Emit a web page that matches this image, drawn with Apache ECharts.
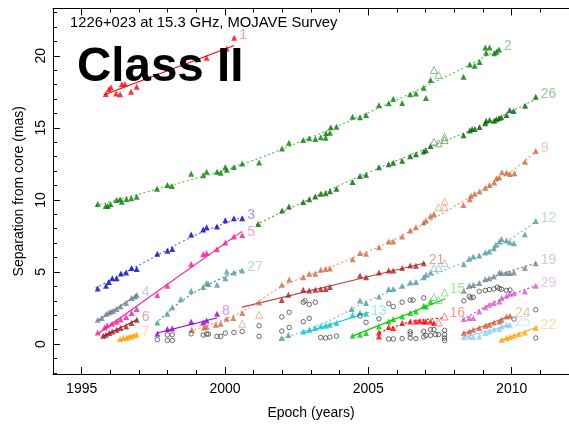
<!DOCTYPE html>
<html>
<head>
<meta charset="utf-8">
<script src="https://cdn.jsdelivr.net/npm/echarts@6/dist/echarts.min.js"></script>
<style>
  html, body { margin: 0; padding: 0; background: #fff; }
  #chart { width: 569px; height: 425px; }
</style>
</head>
<body>
<div id="chart"></div>
<script>
// Axis ticks
const xMajor = [1995, 2000, 2005, 2010];
const xMinor = [1994, 1995, 1996, 1997, 1998, 1999, 2000, 2001, 2002, 2003, 2004, 2005, 2006, 2007, 2008, 2009, 2010, 2011, 2012];
const yMajor = [0, 5, 10, 15, 20];
const yMinor = [-2, -1, 0, 1, 2, 3, 4, 5, 6, 7, 8, 9, 10, 11, 12, 13, 14, 15, 16, 17, 18, 19, 20, 21, 22, 23];

// Component positions [epoch, separation in mas]
const c1 = [[1995.84,17.35],[1995.95,17.67],[1996.02,17.81],[1996.20,17.39],[1996.34,17.33],[1996.40,18.02],[1996.51,18.04],[1996.72,17.50],[1996.92,17.85],[1999.36,19.86],[2000.06,20.51],[2000.32,21.25]];
const c2 = [[1995.56,9.72],[1995.84,9.58],[1995.91,9.58],[1996.01,9.70],[1996.21,10.00],[1996.34,10.05],[1996.40,9.88],[1996.56,10.07],[1996.73,10.12],[1996.92,10.21],[1997.63,10.78],[1997.99,11.04],[1998.15,10.97],[1998.82,11.82],[1999.24,11.71],[1999.36,11.96],[1999.72,11.96],[1999.85,11.89],[2000.01,12.29],[2000.06,12.10],[2000.31,12.29],[2000.60,12.52],[2001.19,12.59],[2001.99,13.56],[2002.23,13.97],[2002.73,14.16],[2002.94,14.28],[2003.15,14.23],[2003.34,14.35],[2003.51,14.32],[2003.52,14.62],[2003.66,14.66],[2003.69,15.04],[2003.89,15.08],[2004.45,15.77],[2004.71,15.73],[2004.92,15.89],[2005.37,16.56],[2005.71,16.70],[2005.87,17.02],[2006.18,16.72],[2006.46,17.33],[2006.66,17.39],[2006.93,17.78],[2007.01,17.07],[2007.17,18.32],[2008.32,18.54],[2008.54,19.40],[2008.71,19.31],[2008.88,19.56],[2009.08,20.58],[2009.23,20.58],[2009.11,20.21],[2009.39,20.17],[2009.47,20.28],[2009.56,20.44]];
const h2 = [[2007.29,19.01],[2007.45,18.68]];
const c26 = [[2001.16,8.32],[2001.99,9.26],[2002.23,9.54],[2002.73,9.86],[2002.94,10.05],[2003.15,10.23],[2003.34,10.42],[2003.51,10.46],[2003.66,10.60],[2003.89,10.78],[2004.45,11.25],[2004.71,11.66],[2004.92,11.75],[2005.37,12.27],[2005.71,12.47],[2005.87,12.58],[2006.18,12.72],[2006.46,13.03],[2006.66,13.17],[2006.93,13.36],[2007.01,13.44],[2007.17,13.74],[2008.32,14.48],[2008.54,14.82],[2008.62,14.92],[2008.71,14.92],[2008.88,15.06],[2009.08,15.32],[2009.11,15.50],[2009.23,15.54],[2009.39,15.50],[2009.47,15.59],[2009.56,15.68],[2009.64,15.73],[2009.82,15.89],[2009.93,16.24],[2010.07,16.17],[2010.47,16.53],[2010.84,17.16]];
const h26 = [[2007.29,14.04],[2007.45,13.93],[2007.66,14.37],[2007.66,14.15]];
const c3 = [[1995.56,3.85],[1995.85,4.04],[1995.95,4.30],[1996.07,4.57],[1996.22,4.57],[1996.37,4.89],[1996.55,4.96],[1996.74,5.27],[1996.92,5.20],[1997.64,6.26],[1997.99,6.47],[1998.16,6.60],[1998.82,7.60],[1999.24,7.94],[1999.36,8.11],[1999.72,8.15],[2000.01,8.59],[2000.31,8.73],[2000.60,8.73]];
const c5 = [[1995.56,0.80],[1995.80,1.15],[1995.89,1.29],[1996.06,1.41],[1996.22,1.55],[1996.36,1.70],[1996.55,1.87],[1996.74,2.15],[1996.92,2.43],[1997.64,3.40],[1997.99,4.04],[1998.82,5.56],[1999.24,6.24],[1999.36,6.31],[1999.72,6.58],[2000.01,7.04],[2000.31,7.46],[2000.60,7.57]];
const c4 = [[1995.56,1.68],[1995.70,1.80],[1995.85,2.08],[1995.95,2.19],[1996.02,2.26],[1996.10,2.31],[1996.22,2.43],[1996.36,2.61],[1996.55,2.84],[1996.74,3.19],[1996.86,3.30],[1996.92,3.40]];
const c6 = [[1995.75,0.58],[1995.85,0.64],[1995.96,0.76],[1996.07,0.87],[1996.22,0.99],[1996.36,1.11],[1996.55,1.22],[1996.74,1.46],[1996.92,1.68]];
const c7 = [[1996.34,0.35],[1996.45,0.42],[1996.57,0.42],[1996.66,0.53],[1996.74,0.53],[1996.83,0.60],[1996.92,0.64]];
const c8 = [[1997.64,0.71],[1997.99,1.04],[1998.16,1.08],[1998.82,1.55],[1999.24,1.50],[1999.36,1.64],[1999.72,2.10]];
const c27 = [[1997.64,1.50],[1997.99,2.10],[1998.16,2.56],[1998.46,3.12],[1998.82,3.69],[1999.24,3.95],[1999.36,4.23],[1999.42,4.16],[1999.72,4.11],[2000.01,4.57],[2000.06,5.03],[2000.31,4.96],[2000.60,5.10]];
const c9 = [[1998.84,0.99],[1999.27,1.15],[1999.36,1.18],[1999.68,1.34],[1999.85,1.41],[2000.06,1.75],[2000.29,1.80],[2000.60,2.15],[2001.19,2.88],[2001.98,4.11],[2002.24,4.48],[2002.73,4.64],[2002.94,4.87],[2003.15,4.87],[2003.34,5.15],[2003.51,5.20],[2003.66,5.24],[2004.45,5.89],[2004.71,6.31],[2004.92,6.26],[2005.37,6.72],[2005.71,7.11],[2005.87,7.11],[2006.18,7.46],[2006.46,7.87],[2006.66,8.11],[2006.93,8.43],[2007.01,8.57],[2007.17,8.89],[2007.29,9.03],[2008.32,9.65],[2008.54,10.05],[2008.58,10.28],[2008.71,10.42],[2008.88,10.58],[2009.08,10.85],[2009.23,11.04],[2009.39,11.20],[2009.47,11.50],[2009.56,11.55],[2009.66,11.92],[2009.82,11.89],[2009.94,11.80],[2010.10,11.85],[2010.47,12.65],[2010.84,13.40]];
const h9 = [[2000.60,1.41],[2001.19,2.03],[2007.45,9.49],[2007.66,9.88],[2007.66,9.49]];
const c21 = [[2001.98,3.05],[2002.21,3.42],[2002.73,3.76],[2002.94,3.72],[2003.15,3.76],[2003.34,3.80],[2003.51,3.82],[2003.66,3.95],[2004.71,4.75],[2004.92,4.64],[2005.37,4.96],[2005.71,5.10],[2005.87,5.10],[2006.18,5.27],[2006.46,5.45],[2006.66,5.43],[2006.93,5.61]];
const c12 = [[2001.98,0.42],[2002.21,0.62],[2004.42,2.43],[2004.71,3.02],[2004.92,2.84],[2005.37,3.30],[2005.71,3.81],[2005.87,3.81],[2006.18,4.04],[2006.46,4.27],[2006.66,4.30],[2006.93,4.64],[2007.01,4.80],[2007.17,4.96],[2008.33,5.54],[2008.52,5.91],[2008.66,6.07],[2008.87,6.14],[2009.08,6.35],[2009.22,6.42],[2009.38,6.65],[2009.45,6.88],[2009.57,7.11],[2009.65,7.28],[2009.82,7.18],[2009.94,7.07],[2010.08,7.00],[2010.46,7.62],[2010.84,8.54]];
const h12 = [[2007.29,5.27],[2007.45,5.27],[2007.66,5.61]];
const c19 = [[2008.33,3.69],[2008.52,4.04],[2008.66,4.10],[2008.87,4.23],[2009.08,4.50],[2009.22,4.57],[2009.38,4.68],[2009.57,4.96],[2009.65,4.92],[2009.82,4.92],[2009.94,4.92],[2010.08,4.96],[2010.46,5.27],[2010.84,5.61]];
const c29 = [[2008.33,1.73],[2008.52,1.80],[2008.66,1.80],[2008.87,2.26],[2009.08,2.56],[2009.22,2.72],[2009.38,2.84],[2009.57,2.95],[2009.65,3.19],[2009.82,3.35],[2009.94,3.49],[2010.08,3.53],[2010.46,3.65],[2010.84,4.04]];
const c13 = [[2002.73,0.87],[2002.94,0.99],[2003.15,1.11],[2003.34,1.22],[2003.51,1.27],[2003.66,1.34],[2003.89,1.46],[2004.45,2.03],[2004.71,2.19],[2004.92,2.10]];
const c15 = [[2004.45,0.58],[2004.71,0.64],[2004.92,0.76],[2005.37,1.22],[2005.71,1.57],[2005.87,1.73],[2006.18,1.91],[2006.46,2.15],[2006.66,2.26],[2006.93,2.65],[2007.01,2.60],[2007.17,2.95]];
const h15 = [[2007.29,3.26],[2007.45,3.05],[2007.66,3.58]];
const c16 = [[2005.37,0.53],[2005.37,0.80],[2005.71,1.18],[2005.87,1.11],[2006.18,1.46],[2006.46,1.57],[2006.66,1.57],[2006.80,1.60],[2006.93,1.57],[2007.01,1.57],[2007.17,1.57],[2007.29,1.46]];
const h16 = [[2007.45,1.50],[2007.66,1.91]];
const c24 = [[2008.33,0.76],[2008.52,0.87],[2008.66,0.99],[2008.87,1.11],[2009.08,1.27],[2009.22,1.34],[2009.38,1.50],[2009.57,1.57],[2009.65,1.68],[2009.82,1.91],[2009.94,1.96]];
const c25 = [[2008.33,0.49],[2008.52,0.52],[2008.66,0.49],[2008.87,0.52],[2009.08,0.76],[2009.22,0.87],[2009.38,0.99],[2009.57,1.04],[2009.65,1.22],[2009.82,1.34],[2009.94,1.34]];
const c22 = [[2009.65,0.30],[2009.82,0.42],[2009.94,0.49],[2010.08,0.58],[2010.25,0.69],[2010.46,0.80],[2010.84,1.11]];

// Unidentified features (open circles)
const unclassified = [[1997.64,0.30],[1997.99,0.64],[1998.16,0.64],[1997.99,0.25],[1998.16,0.25],[1998.82,0.71],[1999.24,0.62],[1999.36,0.69],[1999.42,0.69],[1999.72,0.53],[1999.85,0.53],[2000.01,0.76],[2000.31,0.80],[2000.60,0.87],[2001.19,0.53],[2001.19,1.27],[2001.98,1.88],[2001.98,0.90],[2002.24,2.20],[2002.24,1.15],[2002.73,2.90],[2002.79,3.00],[2002.94,2.75],[2003.15,2.90],[2002.73,1.55],[2002.94,1.78],[2003.34,0.45],[2003.51,0.42],[2003.66,0.48],[2003.89,0.55],[2004.71,1.95],[2004.92,1.50],[2005.37,1.75],[2005.71,2.80],[2005.87,2.60],[2006.18,2.90],[2006.46,3.05],[2006.56,3.05],[2006.93,3.20],[2005.71,0.35],[2005.87,0.35],[2006.18,0.38],[2006.46,0.42],[2006.46,0.85],[2006.46,0.70],[2006.66,0.38],[2006.93,0.50],[2006.93,0.88],[2007.01,0.60],[2007.17,0.60],[2007.17,1.00],[2007.29,1.00],[2007.35,0.65],[2007.45,0.65],[2007.66,0.95],[2007.66,0.65],[2007.66,0.42],[2007.66,0.25],[2008.33,3.00],[2008.52,3.30],[2008.58,3.20],[2008.66,3.25],[2008.87,3.65],[2009.08,3.72],[2009.22,3.78],[2009.38,3.82],[2009.50,3.95],[2009.57,3.85],[2009.65,3.80],[2009.82,3.72],[2009.94,3.75],[2010.08,1.73],[2010.84,2.38],[2010.84,0.42]];

// Kinematic fits
const f1 = [[1995.79,17.3],[2000.3,20.7]];
const f2 = [[1995.5,9.6],[1998,10.95],[2000.5,12.4],[2003,14.35],[2005.5,16.5],[2008,18.85],[2009.6,20.5]];
const f26 = [[2001.1,8.3],[2003,10.1],[2005,11.9],[2007,13.55],[2009,15.2],[2010.85,17.0]];
const f3 = [[1995.5,3.9],[1996.5,4.95],[1997.5,6.0],[1998.5,7.1],[1999.5,8.0],[2000.6,8.8]];
const f5 = [[1995.56,0.71],[2000.58,7.8]];
const f27 = [[1997.6,1.45],[1998.5,3.0],[1999.5,4.2],[2000.6,5.15]];
const f4 = [[1995.55,1.62],[1996.95,3.42]];
const f6 = [[1995.72,0.52],[1996.95,1.7]];
const f7 = [[1996.3,0.28],[1996.95,0.67]];
const f8 = [[1997.64,0.76],[1999.71,1.8]];
const f9 = [[1998.8,0.9],[2000.5,2.15],[2002,4.0],[2004,5.6],[2006,7.35],[2008,9.55],[2010,12.0],[2010.85,13.4]];
const f21 = [[2000.6,2.56],[2006.97,5.62]];
const f12 = [[2001.9,0.3],[2003.5,1.5],[2005,3.0],[2006.5,4.2],[2008,5.4],[2009.5,6.75],[2010.85,8.5]];
const f19 = [[2008.3,3.7],[2009.5,4.75],[2010.85,5.6]];
const f29 = [[2008.3,1.7],[2009.5,3.0],[2010.85,4.05]];
const f13 = [[2002.73,0.76],[2005.0,2.19]];
const f15 = [[2004.42,0.53],[2007.67,3.12]];
const f16 = [[2005.4,0.8],[2006.5,1.55],[2007.66,1.8]];
const f24 = [[2008.3,0.72],[2009.95,1.95]];
const f25 = [[2008.3,0.45],[2009.95,1.33]];
const f22 = [[2009.6,0.25],[2010.9,1.18]];

// Component styling: marker colour, fit colour, label colour, dotted fit
const components = [
  { id: '1',  pts: c1,  open: [],  fit: f1,  color: '#ff0000', line: '#ff0000', text: '#ff8080', dotted: false },
  { id: '2',  pts: c2,  open: h2,  fit: f2,  color: '#008000', line: '#66c266', text: '#80c080', dotted: true },
  { id: '26', pts: c26, open: h26, fit: f26, color: '#006400', line: '#66b266', text: '#80b880', dotted: true },
  { id: '3',  pts: c3,  open: [],  fit: f3,  color: '#0000cd', line: '#7070ff', text: '#8080ff', dotted: true },
  { id: '5',  pts: c5,  open: [],  fit: f5,  color: '#ff1493', line: '#ff1493', text: '#ff8ac9', dotted: false },
  { id: '27', pts: c27, open: [],  fit: f27, color: '#4f9a9c', line: '#4f9a9c', text: '#a8d0d0', dotted: true },
  { id: '4',  pts: c4,  open: [],  fit: f4,  color: '#708090', line: '#708090', text: '#b8c0c8', dotted: false },
  { id: '6',  pts: c6,  open: [],  fit: f6,  color: '#a01c1c', line: '#a01c1c', text: '#d89080', dotted: false },
  { id: '7',  pts: c7,  open: [],  fit: f7,  color: '#ffa500', line: '#ffa500', text: '#ffd280', dotted: false },
  { id: '8',  pts: c8,  open: [],  fit: f8,  color: '#9400d3', line: '#9400d3', text: '#c97fe9', dotted: false },
  { id: '9',  pts: c9,  open: h9,  fit: f9,  color: '#d0663f', line: '#eea080', text: '#efb4a0', dotted: true },
  { id: '21', pts: c21, open: [],  fit: f21, color: '#b01c1c', line: '#c04848', text: '#d88888', dotted: false },
  { id: '12', pts: c12, open: h12, fit: f12, color: '#4f9a9c', line: '#8cc0c0', text: '#a8d0d0', dotted: true },
  { id: '19', pts: c19, open: [],  fit: f19, color: '#708090', line: '#708090', text: '#b8c0c8', dotted: true },
  { id: '29', pts: c29, open: [],  fit: f29, color: '#da50d6', line: '#da50d6', text: '#ecb0ea', dotted: true },
  { id: '13', pts: c13, open: [],  fit: f13, color: '#00c8d0', line: '#00c8d0', text: '#80e2e8', dotted: false },
  { id: '15', pts: c15, open: h15, fit: f15, color: '#00cd00', line: '#00cd00', text: '#80e680', dotted: false },
  { id: '16', pts: c16, open: h16, fit: f16, color: '#ff0000', line: '#ff0000', text: '#ff8080', dotted: true },
  { id: '24', pts: c24, open: [],  fit: f24, color: '#c8603a', line: '#c8603a', text: '#e8b49c', dotted: false },
  { id: '25', pts: c25, open: [],  fit: f25, color: '#87cefa', line: '#87cefa', text: '#c0e4fc', dotted: false },
  { id: '22', pts: c22, open: [],  fit: f22, color: '#ffa500', line: '#ffa500', text: '#ffd280', dotted: false }
];

function lighten(hex, t) {
  const n = parseInt(hex.slice(1), 16);
  const r = (n >> 16) & 255, g = (n >> 8) & 255, b = n & 255;
  const m = v => Math.round(v + (255 - v) * t);
  return 'rgb(' + m(r) + ',' + m(g) + ',' + m(b) + ')';
}

const FONT = 'Liberation Sans, Arial, sans-serif';
const series = [];
const labelData = [];

components.forEach(c => {
  series.push({
    type: 'line', data: c.fit, showSymbol: false, silent: true, z: 2,
    smooth: c.dotted && c.fit.length > 2 ? 0.4 : false,
    lineStyle: { color: c.line, width: c.dotted ? 1.3 : 1.1, type: c.dotted ? [1, 3.5] : 'solid', cap: 'round' }
  });
  series.push({
    type: 'scatter', data: c.pts, symbol: 'triangle', symbolSize: 6, z: 3, silent: true,
    itemStyle: { color: c.color }
  });
  if (c.open.length) {
    series.push({
      type: 'scatter', data: c.open, symbol: 'triangle', symbolSize: 7, z: 3, silent: true,
      itemStyle: { color: 'rgba(255,255,255,0)', borderColor: lighten(c.color, 0.4), borderWidth: 1 }
    });
  }
  // name sits just right of the latest epoch of the component
  const all = c.pts.concat(c.open);
  let last = all[0];
  all.forEach(p => { if (p[0] > last[0]) last = p; });
  labelData.push({ value: last, name: c.id, label: { color: c.text } });
});

series.push({
  type: 'scatter', data: unclassified, symbol: 'circle', symbolSize: 4.5, z: 3, silent: true,
  itemStyle: { color: 'rgba(255,255,255,0)', borderColor: '#333', borderWidth: 0.9 }
});

series.push({
  type: 'scatter', data: labelData, symbolSize: 0, z: 4, silent: true,
  label: { show: true, position: 'right', distance: 5, offset: [0, -3], formatter: p => p.name, fontSize: 14, fontFamily: FONT }
});

const xRange = { min: 1994, max: 2012 };
const yRange = { min: -2.08, max: 23.28 };
const axisLineStyle = { lineStyle: { color: '#000', width: 1 } };
const plain = v => String(Math.round(v));

const chart = echarts.init(document.getElementById('chart'), null, { renderer: 'canvas' });
chart.setOption({
  animation: false,
  backgroundColor: '#fff',
  title: [
    { text: '1226+023 at 15.3 GHz, MOJAVE Survey', left: 70, top: 15, padding: 0,
      textStyle: { fontSize: 14.8, fontWeight: 'normal', color: '#000', fontFamily: FONT } },
    { text: 'Class II', left: 77, top: 44, padding: 0,
      textStyle: { fontSize: 47.5, fontWeight: 'bold', color: '#000', fontFamily: FONT } }
  ],
  grid: { left: 53, right: -1, top: 8.5, bottom: 50.5, containLabel: false },
  xAxis: [
    { type: 'value', position: 'bottom', ...xRange,
      name: 'Epoch (years)', nameLocation: 'middle', nameGap: 32,
      nameTextStyle: { fontSize: 14, color: '#000', fontFamily: FONT },
      axisLine: { show: true, onZero: false, ...axisLineStyle },
      axisTick: { show: true, inside: true, length: 7, customValues: xMajor, lineStyle: { color: '#000' } },
      axisLabel: { show: true, customValues: xMajor, formatter: plain, margin: 8, fontSize: 14, color: '#000', fontFamily: FONT },
      splitLine: { show: false } },
    { type: 'value', position: 'bottom', ...xRange,
      axisLine: { show: false, onZero: false },
      axisTick: { show: true, inside: true, length: 4, customValues: xMinor, lineStyle: { color: '#000' } },
      axisLabel: { show: false }, splitLine: { show: false } },
    { type: 'value', position: 'top', ...xRange,
      axisLine: { show: true, onZero: false, ...axisLineStyle },
      axisTick: { show: true, inside: true, length: 7, customValues: xMajor, lineStyle: { color: '#000' } },
      axisLabel: { show: false }, splitLine: { show: false } },
    { type: 'value', position: 'top', ...xRange,
      axisLine: { show: false, onZero: false },
      axisTick: { show: true, inside: true, length: 4, customValues: xMinor, lineStyle: { color: '#000' } },
      axisLabel: { show: false }, splitLine: { show: false } }
  ],
  yAxis: [
    { type: 'value', position: 'left', ...yRange,
      name: 'Separation from core (mas)', nameLocation: 'middle', nameGap: 24,
      nameTextStyle: { fontSize: 14, color: '#000', fontFamily: FONT },
      axisLine: { show: true, onZero: false, ...axisLineStyle },
      axisTick: { show: true, inside: true, length: 7, customValues: yMajor, lineStyle: { color: '#000' } },
      axisLabel: { show: true, customValues: yMajor, formatter: plain, rotate: 90, margin: 5, fontSize: 14, color: '#000', fontFamily: FONT },
      splitLine: { show: false } },
    { type: 'value', position: 'left', ...yRange,
      axisLine: { show: false, onZero: false },
      axisTick: { show: true, inside: true, length: 4, customValues: yMinor, lineStyle: { color: '#000' } },
      axisLabel: { show: false }, splitLine: { show: false } }
  ],
  series: series
});
</script>
</body>
</html>
